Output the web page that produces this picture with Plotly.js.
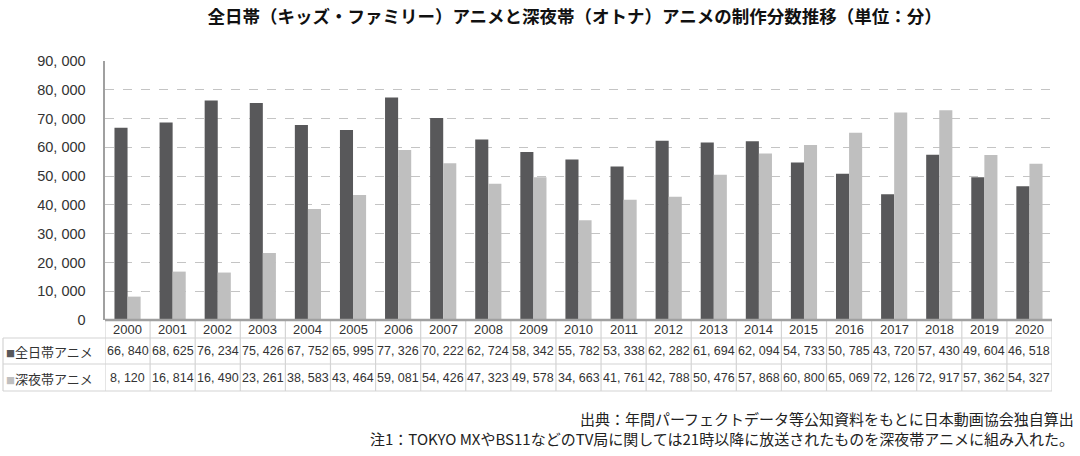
<!DOCTYPE html>
<html>
<head>
<meta charset="utf-8">
<script src="https://cdn.plot.ly/plotly-3.0.1.min.js"></script>
<style>html,body{margin:0;padding:0;background:#fff;}#chart{width:1080px;height:456px;}</style>
</head>
<body>
<div id="chart"></div>
<script>
const years = ['2000','2001','2002','2003','2004','2005','2006','2007','2008','2009','2010','2011','2012','2013','2014','2015','2016','2017','2018','2019','2020'];
const allDay = [66840, 68625, 76234, 75426, 67752, 65995, 77326, 70222, 62724, 58342, 55782, 53338, 62282, 61694, 62094, 54733, 50785, 43720, 57430, 49604, 46518];
const lateNight = [8120, 16814, 16490, 23261, 38583, 43464, 59081, 54426, 47323, 49578, 34663, 41761, 42788, 50476, 57868, 60800, 65069, 72126, 72917, 57362, 54327];
const seriesNames = ['全日帯アニメ', '深夜帯アニメ'];
const yTickVals = [0, 10000, 20000, 30000, 40000, 50000, 60000, 70000, 80000, 90000];
const titleText = '全日帯（キッズ・ファミリー）アニメと深夜帯（オトナ）アニメの制作分数推移（単位：分）';
const sourceNote = '出典：年間パーフェクトデータ等公知資料をもとに日本動画協会独自算出';
const note1 = '注1：TOKYO MXやBS11などのTV局に関しては21時以降に放送されたものを深夜帯アニメに組み入れた。';

const darkColor = '#58585a';
const lightColor = '#bfbfbf';
const numFont = 'Liberation Sans, Arial, sans-serif';
const jpFont = 'Noto Sans CJK JP, sans-serif';

function fmt(n) {
  return n.toLocaleString('en-US').replace(/,/g, ', ');
}

// pixel -> paper helpers (plot area: top 61, bottom 320, left 105, right 1052)
const T = 61, B = 320, L = 105, R = 1052;
const py = p => (B - p) / (B - T);
const px = p => (p - L) / (R - L);

const traces = [
  {type: 'bar', name: seriesNames[0], x: years, y: allDay, marker: {color: darkColor}},
  {type: 'bar', name: seriesNames[1], x: years, y: lateNight, marker: {color: lightColor}}
];

const annotations = [];
const shapes = [];
const lineColor = '#d4d4d4';

years.forEach((yr, i) => {
  annotations.push({xref: 'x', yref: 'paper', x: i, y: py(329), text: yr, showarrow: false,
    xanchor: 'center', yanchor: 'middle', font: {family: numFont, size: 13, color: '#333'}});
  annotations.push({xref: 'x', yref: 'paper', x: i, y: py(351), text: fmt(allDay[i]), showarrow: false,
    xanchor: 'center', yanchor: 'middle', font: {family: numFont, size: 12.5, color: '#333'}});
  annotations.push({xref: 'x', yref: 'paper', x: i, y: py(378), text: fmt(lateNight[i]), showarrow: false,
    xanchor: 'center', yanchor: 'middle', font: {family: numFont, size: 12.5, color: '#333'}});
});
// row labels
annotations.push({xref: 'paper', yref: 'paper', x: px(4), y: py(351), xanchor: 'left', yanchor: 'middle', showarrow: false,
  text: '<span style="color:' + darkColor + ';font-size:9px">■</span>' + seriesNames[0], font: {family: jpFont, size: 13, color: '#333'}});
annotations.push({xref: 'paper', yref: 'paper', x: px(4), y: py(378), xanchor: 'left', yanchor: 'middle', showarrow: false,
  text: '<span style="color:' + lightColor + ';font-size:9px">■</span>' + seriesNames[1], font: {family: jpFont, size: 13, color: '#333'}});

// footer notes
annotations.push({xref: 'paper', yref: 'paper', x: px(1076), y: py(418), xanchor: 'right', yanchor: 'middle', showarrow: false,
  text: sourceNote, font: {family: jpFont, size: 15, color: '#222'}});
annotations.push({xref: 'paper', yref: 'paper', x: px(1076), y: py(438), xanchor: 'right', yanchor: 'middle', showarrow: false,
  text: note1, font: {family: jpFont, size: 15, color: '#222'}});

// table lines
[338, 364, 391].forEach(p => {
  shapes.push({type: 'line', xref: 'paper', yref: 'paper', x0: px(3), x1: 1, y0: py(p), y1: py(p),
    line: {color: lineColor, width: 1.2}});
});
for (let i = 0; i <= years.length; i++) {
  shapes.push({type: 'line', xref: 'x', yref: 'paper', x0: i - 0.5, x1: i - 0.5, y0: 0, y1: py(391),
    line: {color: lineColor, width: 1.2}});
}
shapes.push({type: 'line', xref: 'paper', yref: 'paper', x0: px(3), x1: px(3), y0: py(338), y1: py(391),
  line: {color: lineColor, width: 1.2}});

const layout = {
  width: 1080, height: 456,
  margin: {l: L, r: 1080 - R, t: T, b: 456 - B, pad: 0},
  paper_bgcolor: '#fff', plot_bgcolor: '#fff',
  showlegend: false,
  barmode: 'group', bargap: 0.42, bargroupgap: 0,
  title: {text: '<b>' + titleText + '</b>', x: 0.532, xref: 'container', y: 0.962, yref: 'container', yanchor: 'middle',
    font: {family: jpFont, size: 17.5, color: '#111'}},
  xaxis: {type: 'category', showticklabels: false, ticks: '', showgrid: false, zeroline: false,
    showline: false, range: [-0.5, years.length - 0.5]},
  yaxis: {range: [0, 90000], tickvals: yTickVals, ticktext: yTickVals.map(fmt), showgrid: true,
    gridcolor: '#c4c4c4', griddash: 'dash', gridwidth: 1, zeroline: false,
    showline: true, linecolor: '#a0a0a0', linewidth: 2.5, ticks: '', ticklabelstandoff: 14,
    tickfont: {family: numFont, size: 14.5, color: '#333'}},
  annotations: annotations,
  shapes: shapes.concat([
    {type: 'line', xref: 'paper', yref: 'paper', x0: 0, x1: 1, y0: 0, y1: 0, line: {color: '#a0a0a0', width: 2.5}}
  ])
};

Plotly.newPlot('chart', traces, layout, {displayModeBar: false, staticPlot: true});
</script>
</body>
</html>
